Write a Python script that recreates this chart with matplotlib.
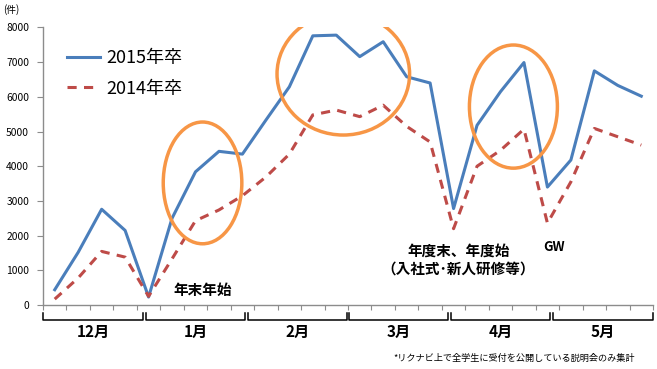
import numpy as np
import matplotlib
matplotlib.use("Agg")
import matplotlib.pyplot as plt
from matplotlib.patches import Ellipse
from matplotlib.transforms import blended_transform_factory

plt.rcParams["font.family"] = ["Noto Sans CJK JP", "DejaVu Sans"]

# weekly counts, 26 weeks Dec..May
blue_2015 = [440, 1520, 2760, 2150, 230, 2500, 3840, 4430, 4350, 5330, 6290, 7760, 7780,
             7160, 7590, 6580, 6400, 2780, 5180, 6150, 6990, 3400, 4180, 6750, 6330, 6020]
red_2014 = [170, 780, 1545, 1380, 250, 1330, 2430, 2740, 3150, 3690, 4350, 5480, 5620,
            5430, 5760, 5150, 4700, 2200, 4000, 4460, 5070, 2360, 3550, 5090, 4850, 4610]
series_labels = ["2015年卒", "2014年卒"]
months = ["12月", "1月", "2月", "3月", "4月", "5月"]
yticks = [0, 1000, 2000, 3000, 4000, 5000, 6000, 7000, 8000]

# highlighted regions: (center_x, center_y, width, height) in data units
ellipses = [(6.3, 3520, 3.35, 3510), (12.3, 6660, 5.65, 3520), (19.55, 5720, 3.75, 3550)]
notes = [(6.3, 420, "年末年始"), (17.2, 1574, "年度末、年度始"),
         (17.2, 1054, "（入社式･新人研修等）"), (21.3, 1670, "GW")]
footnote = "*リクナビ上で全学生に受付を公開している説明会のみ集計"

BLUE, RED, ORANGE, GRAY = "#4a7ebb", "#be4b48", "#f79646", "#8c8c8c"

W, H = 657, 369
fig = plt.figure(figsize=(W / 100, H / 100), dpi=100)
ax = fig.add_axes([43 / W, 1 - 305 / H, 610 / W, 277.5 / H])

x = np.arange(len(blue_2015))
ax.plot(x, blue_2015, color=BLUE, lw=2.2, label=series_labels[0], zorder=3)
ax.plot(x, red_2014, color=RED, lw=2.2, dashes=(3.0, 2.4), label=series_labels[1], zorder=3)

for cx, cy, w, h in ellipses:
    ax.add_patch(Ellipse((cx, cy), w, h, fill=False, ec=ORANGE, lw=2.5, zorder=4))

ax.set_xlim(-0.5, len(x) - 0.5)
ax.set_ylim(0, 8000)
ax.set_yticks(yticks)
ax.set_xticks(np.arange(-0.5, len(x), 1))
ax.set_xticklabels([])
ax.tick_params(axis="y", length=4, width=0.8, color=GRAY, pad=6, labelsize=7.4)
ax.tick_params(axis="x", length=3.5, width=0.8, color=GRAY)
for s in ["top", "right"]:
    ax.spines[s].set_visible(False)
for s in ["left", "bottom"]:
    ax.spines[s].set_color(GRAY)
    ax.spines[s].set_linewidth(1.0)

for nx, ny, t in notes:
    ax.text(nx, ny, t, ha="center", va="center", fontsize=10.5 if t != "GW" else 9.5,
            fontweight="bold", zorder=5)

# month brackets under the axis
tr = blended_transform_factory(ax.transAxes, ax.transAxes)
y_top, y_bot, y_lab = -8 / 277.5, -15 / 277.5, -27 / 277.5
n = len(months)
for i, m in enumerate(months):
    x0 = i / n + (0.002 if i > 0 else 0)
    x1 = (i + 1) / n - (0.002 if i < n - 1 else 0)
    ax.plot([x0, x0, x1, x1], [y_top, y_bot, y_bot, y_top], color="black", lw=1.1,
            transform=tr, clip_on=False)
    ax.text((x0 + x1) / 2, y_lab, m, transform=tr, ha="center", va="center",
            fontsize=11, fontweight="bold")

leg = ax.legend(loc="upper left", bbox_to_anchor=(67 / W, 1 - 49 / H),
                bbox_transform=fig.transFigure, frameon=False, fontsize=13,
                handlelength=1.85, handletextpad=0.35, labelspacing=0.7,
                borderpad=0, borderaxespad=0)

fig.text(3 / W, 1 - 10 / H, "(件)", fontsize=7, ha="left", va="center")
fig.text(514 / W, 1 - 358 / H, footnote, fontsize=6.6, ha="center", va="center")

fig.savefig("out.png", dpi=100)
